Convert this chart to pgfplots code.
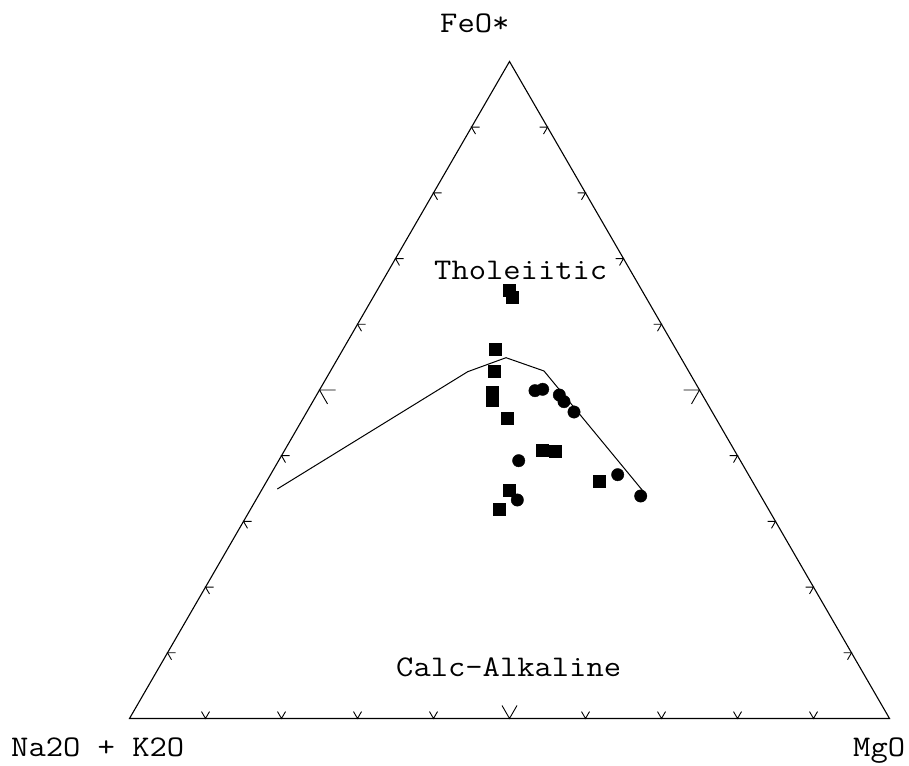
\documentclass[border=0pt]{standalone}
\usepackage{pgfplots}
\pgfplotsset{compat=1.18}
\usepackage{fontspec}
\newfontfamily\cour{Latin Modern Mono}[FakeStretch=1.12]
\begin{document}
\begin{tikzpicture}
\begin{axis}[
  width=909pt, height=765pt, scale only axis,
  xmin=0, xmax=909, ymin=0, ymax=765,
  axis lines=none, clip=false,
  unbounded coords=jump,
  every axis plot/.append style={black},
]
% triangle frame
\addplot[line width=1.1pt, mark=none, line join=miter] coordinates {(129.5,46.5) (889.5,46.5) (509.5,703.5) (129.5,46.5) (889.5,46.5)};
% bottom ticks
\addplot[line width=0.9pt, mark=none] coordinates {
(201.5,53.4)(205.5,46.5)(209.5,53.4) (nan,nan)
(277.5,53.4)(281.5,46.5)(285.5,53.4) (nan,nan)
(353.5,53.4)(357.5,46.5)(361.5,53.4) (nan,nan)
(429.5,53.4)(433.5,46.5)(437.5,53.4) (nan,nan)
(502,59.5)(509.5,46.5)(517,59.5) (nan,nan)
(581.5,53.4)(585.5,46.5)(589.5,53.4) (nan,nan)
(657.5,53.4)(661.5,46.5)(665.5,53.4) (nan,nan)
(733.5,53.4)(737.5,46.5)(741.5,53.4) (nan,nan)
(809.5,53.4)(813.5,46.5)(817.5,53.4)
};
% left ticks
\addplot[line width=0.9pt, mark=none] coordinates {
(175.5,112.2)(167.5,112.2)(171.5,105.3) (nan,nan)
(213.5,177.9)(205.5,177.9)(209.5,171.0) (nan,nan)
(251.5,243.6)(243.5,243.6)(247.5,236.7) (nan,nan)
(289.5,309.3)(281.5,309.3)(285.5,302.4) (nan,nan)
(335.5,375)(319.5,375)(327.5,361.1) (nan,nan)
(365.5,440.7)(357.5,440.7)(361.5,433.8) (nan,nan)
(403.5,506.4)(395.5,506.4)(399.5,499.5) (nan,nan)
(441.5,572.1)(433.5,572.1)(437.5,565.2) (nan,nan)
(479.5,637.8)(471.5,637.8)(475.5,630.9)
};
% right ticks
\addplot[line width=0.9pt, mark=none] coordinates {
(843.5,112.2)(851.5,112.2)(847.5,105.3) (nan,nan)
(805.5,177.9)(813.5,177.9)(809.5,171.0) (nan,nan)
(767.5,243.6)(775.5,243.6)(771.5,236.7) (nan,nan)
(729.5,309.3)(737.5,309.3)(733.5,302.4) (nan,nan)
(683.5,375)(699.5,375)(691.5,361.1) (nan,nan)
(653.5,440.7)(661.5,440.7)(657.5,433.8) (nan,nan)
(615.5,506.4)(623.5,506.4)(619.5,499.5) (nan,nan)
(577.5,572.1)(585.5,572.1)(581.5,565.2) (nan,nan)
(539.5,637.8)(547.5,637.8)(543.5,630.9)
};
% tholeiitic / calc-alkaline boundary
\addplot[line width=1pt, mark=none] coordinates {
(277.3,276) (467.7,393.3) (506,407.3) (544,394) (642.7,274.3)
};
% squares
\addplot[only marks, mark=square*, mark size=6pt] coordinates {
(509.5,475) (511.7,467.5) (494.7,416) (494,394) (491.7,372.3) (491.7,365)
(507.3,346.7) (542,315) (555,313.7) (599.3,283.7) (508.7,274.7) (499,255.7)
};
% circles
\addplot[only marks, mark=*, mark size=6.2pt] coordinates {
(535,374.3) (542.7,375.7) (559.3,370) (564,363.3) (574,353)
(518.7,304.3) (517.3,265) (617.7,290.3) (640.7,269)
};
\tikzset{lbl/.style={anchor=base west, inner sep=0pt, font=\cour\fontsize{30}{32}\selectfont}}
\node[lbl] at (axis cs:440,732) {FeO*};
\node[lbl] at (axis cs:11,9) {Na2O + K2O};
\node[lbl] at (axis cs:853,9) {MgO};
\node[lbl] at (axis cs:434,485) {Tholeiitic};
\node[lbl] at (axis cs:396,88.3) {Calc-Alkaline};
\end{axis}
\pgfresetboundingbox
\useasboundingbox (0,0) rectangle (909pt,765pt);
\end{tikzpicture}
\end{document}
